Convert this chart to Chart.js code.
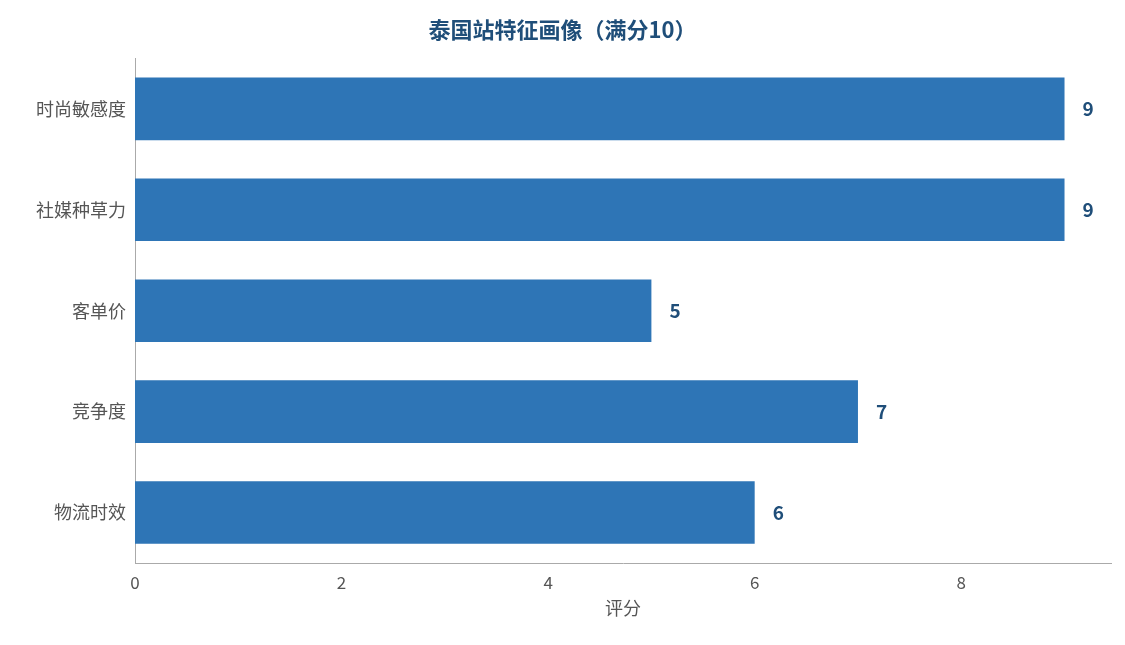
<!DOCTYPE html>
<html><head><meta charset="utf-8">
<script src="https://cdn.jsdelivr.net/npm/chart.js@4"></script>
<style>body{margin:0;background:#fff}#w{width:1125px;height:645px}</style>
</head><body><div id="w"><canvas id="c"></canvas></div>
<script>
const categories=["时尚敏感度","社媒种草力","客单价","竞争度","物流时效"];
const scores=[9,9,5,7,6];
const F='"Noto Sans CJK SC","Noto Sans",sans-serif';
const labelPlugin={id:'lbl',afterDatasetsDraw(ch){const c=ch.ctx;const m=ch.getDatasetMeta(0);c.save();c.font='bold 19px '+F;c.fillStyle='#1f4e79';c.textBaseline='middle';m.data.forEach((b,i)=>{c.fillText(String(scores[i]),b.x+18,b.y);});c.restore();}};
new Chart(document.getElementById('c'),{type:'bar',data:{labels:categories,datasets:[{data:scores,backgroundColor:'#2e75b6',categoryPercentage:1,barPercentage:0.62}]},
options:{indexAxis:'y',responsive:true,maintainAspectRatio:false,animation:false,
layout:{padding:{left:14,right:14,top:10,bottom:22}},
plugins:{legend:{display:false},tooltip:{enabled:false},title:{display:true,text:'泰国站特征画像（满分10）',color:'#1f4e79',font:{family:F,size:22,weight:'bold'},padding:{top:6,bottom:16}}},
scales:{x:{min:0,max:9.45,afterBuildTicks:a=>{a.ticks=a.ticks.filter(t=>t.value%2===0);},ticks:{stepSize:2,color:'#555',font:{family:F,size:17}},grid:{display:false,drawTicks:true,tickLength:6},border:{color:'#aaa'},title:{display:true,text:'评分',color:'#555',font:{family:F,size:18},padding:{top:2}}},
y:{afterFit:a=>{a.width=121;},ticks:{color:'#555',font:{family:F,size:18}},grid:{display:false,tickLength:6},border:{color:'#aaa'}}}},
plugins:[labelPlugin]});
</script></body></html>
